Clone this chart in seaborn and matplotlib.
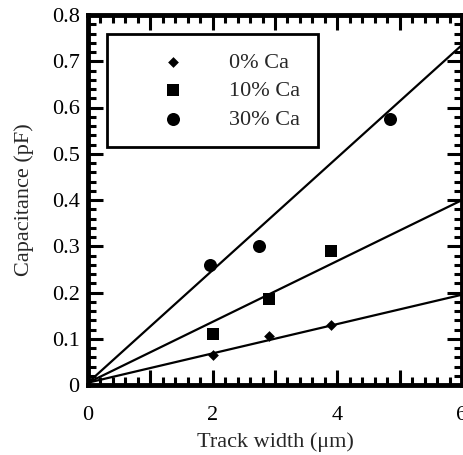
import numpy as np
import pandas as pd
import matplotlib
matplotlib.use("Agg")
import matplotlib.pyplot as plt
import seaborn as sns
from matplotlib.ticker import MultipleLocator

sns.set_style("ticks")
plt.rcParams['font.family'] = ['Liberation Serif', 'DejaVu Serif']

# data
series = ["0% Ca", "10% Ca", "30% Ca"]
x_0 = [2.0, 2.9, 3.9]
y_0 = [0.065, 0.105, 0.13]
x_10 = [2.0, 2.9, 3.9]
y_10 = [0.11, 0.185, 0.29]
x_30 = [1.95, 2.75, 4.85]
y_30 = [0.26, 0.30, 0.575]
fit_slope = [0.0317, 0.0658, 0.1217]
fit_intercept = [0.005, 0.005, 0.005]
x_ticks = [0, 2, 4, 6]
y_ticks = [0, 0.1, 0.2, 0.3, 0.4, 0.5, 0.6, 0.7, 0.8]

df = pd.DataFrame({
    "x": x_0 + x_10 + x_30,
    "y": y_0 + y_10 + y_30,
    "s": [series[0]] * len(x_0) + [series[1]] * len(x_10) + [series[2]] * len(x_30),
})

FS = 16
fig = plt.figure(figsize=(4.64, 4.55), dpi=100)
ax = fig.add_axes([88/464, 1-385/455, 374/464, 370/455])

xs = np.array([0.0, 6.5])
for m, b in zip(fit_slope, fit_intercept):
    line_df = pd.DataFrame({"x": xs, "y": m * xs + b})
    sns.lineplot(data=line_df, x="x", y="y", ax=ax, color="black", lw=1.6, legend=False, zorder=2)

markers = {series[0]: "D", series[1]: "s", series[2]: "o"}
sizes = {series[0]: 30, series[1]: 85, series[2]: 88}
for s in series:
    sub = df[df.s == s]
    sns.scatterplot(data=sub, x="x", y="y", marker=markers[s], s=sizes[s], color="black",
                    edgecolor="black", linewidth=0, ax=ax, label=s, zorder=3)

ax.set_xlim(0, 6)
ax.set_ylim(0, 0.8)
ax.xaxis.set_minor_locator(MultipleLocator(0.2))
ax.yaxis.set_minor_locator(MultipleLocator(0.02))
ax.set_xticks(np.arange(0, 7, 1))
ax.set_xticklabels([str(v) if v in x_ticks else "" for v in range(7)])
ax.set_yticks(y_ticks)
ax.set_yticklabels(["0" if v == 0 else f"{v:.1f}" for v in y_ticks])
ax.tick_params(which="both", direction="in", top=True, right=True, width=2.2, colors="black",
               labelsize=FS)
ax.tick_params(axis="x", pad=15)
ax.tick_params(axis="y", pad=6)
ax.tick_params(which="major", length=11)
ax.tick_params(which="minor", length=6)
for sp in ax.spines.values():
    sp.set_linewidth(3.5)
    sp.set_color("black")
ax.set_xlabel("Track width (μm)", fontsize=FS, labelpad=5)
ax.set_ylabel("Capacitance (pF)", fontsize=FS, labelpad=13)

leg = ax.legend(loc="upper left", bbox_to_anchor=(0.05, 0.948), frameon=True, fancybox=False,
                fontsize=FS, handletextpad=0.3, borderpad=0.8, labelspacing=0.36,
                handlelength=4.41, borderaxespad=0)
leg.get_frame().set_edgecolor("black")
leg.get_frame().set_linewidth(2)
leg.get_frame().set_alpha(1)

fig.savefig("out.png", dpi=100)
